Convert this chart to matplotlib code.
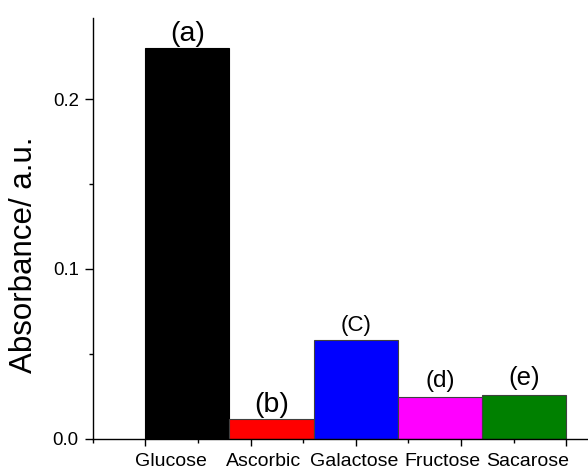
import numpy as np
import matplotlib
matplotlib.use("Agg")
import matplotlib.pyplot as plt

plt.rcParams['font.family'] = ['Liberation Sans', 'DejaVu Sans']

# absorbance of each sugar / interferent
samples = ["Glucose", "Ascorbic", "Galactose", "Fructose", "Sacarose"]
absorbance = [0.2300, 0.0114, 0.0582, 0.0244, 0.0258]
tags = ["(a)", "(b)", "(C)", "(d)", "(e)"]
colors = ["#000000", "#ff0000", "#0000ff", "#ff00ff", "#008000"]

# layout tweaks for the hand-placed texts
tag_sizes = [20.5, 20.5, 16, 17.5, 18.5]
tag_gap = [1, 1, 4, 5, 5]
name_shift = [-0.2, -0.1, -0.02, 0.03, 0.04]

fig = plt.figure(figsize=(5.88, 4.70), dpi=100)
ax = fig.add_axes([92.7 / 588, 31.3 / 470, (588 - 92.7) / 588, (451.7 - 31.3) / 470])

x = np.arange(len(samples))
edges = ["#000000"] + ["#404040"] * (len(samples) - 1)
ax.bar(x, absorbance, width=1.0, color=colors, edgecolor=edges, linewidth=0.8)

for xi, v, t, s, g in zip(x, absorbance, tags, tag_sizes, tag_gap):
    ax.annotate(t, (xi, v), xytext=(0, g), textcoords="offset pixels",
                ha="center", va="bottom", fontsize=s)

ax.set_xlim(-1.125, 4.76)
ax.set_ylim(0, 0.2477)

ax.spines['top'].set_visible(False)
ax.spines['right'].set_visible(False)
for sp in ('left', 'bottom'):
    ax.spines[sp].set_linewidth(1.0)

ax.set_yticks([0.0, 0.1, 0.2])
ax.set_yticklabels(["0.0", "0.1", "0.2"])
ax.set_yticks([0.05, 0.15], minor=True)

major_x = np.arange(-0.5, 4.6, 1.25)
ax.set_xticks(major_x)
ax.set_xticklabels([])
ax.set_xticks(major_x - 0.625, minor=True)

ax.tick_params(which='major', direction='out', length=6, width=1.0, labelsize=13.4, pad=4)
ax.tick_params(axis='x', which='major', length=5)
ax.tick_params(which='minor', direction='out', length=3, width=1.0)

# sample names sit just above the bottom edge
trans = matplotlib.transforms.blended_transform_factory(ax.transData, fig.transFigure)
for xi, name, sh in zip(x, samples, name_shift):
    ax.text(xi + sh, 3.5 / 470, name, transform=trans, ha="center", va="baseline", fontsize=14)

fig.text(24 / 588, 1 - 255 / 470, "Absorbance/ a.u.", rotation=90,
         ha="center", va="center", fontsize=22.5)

fig.savefig("out.png", dpi=100)
